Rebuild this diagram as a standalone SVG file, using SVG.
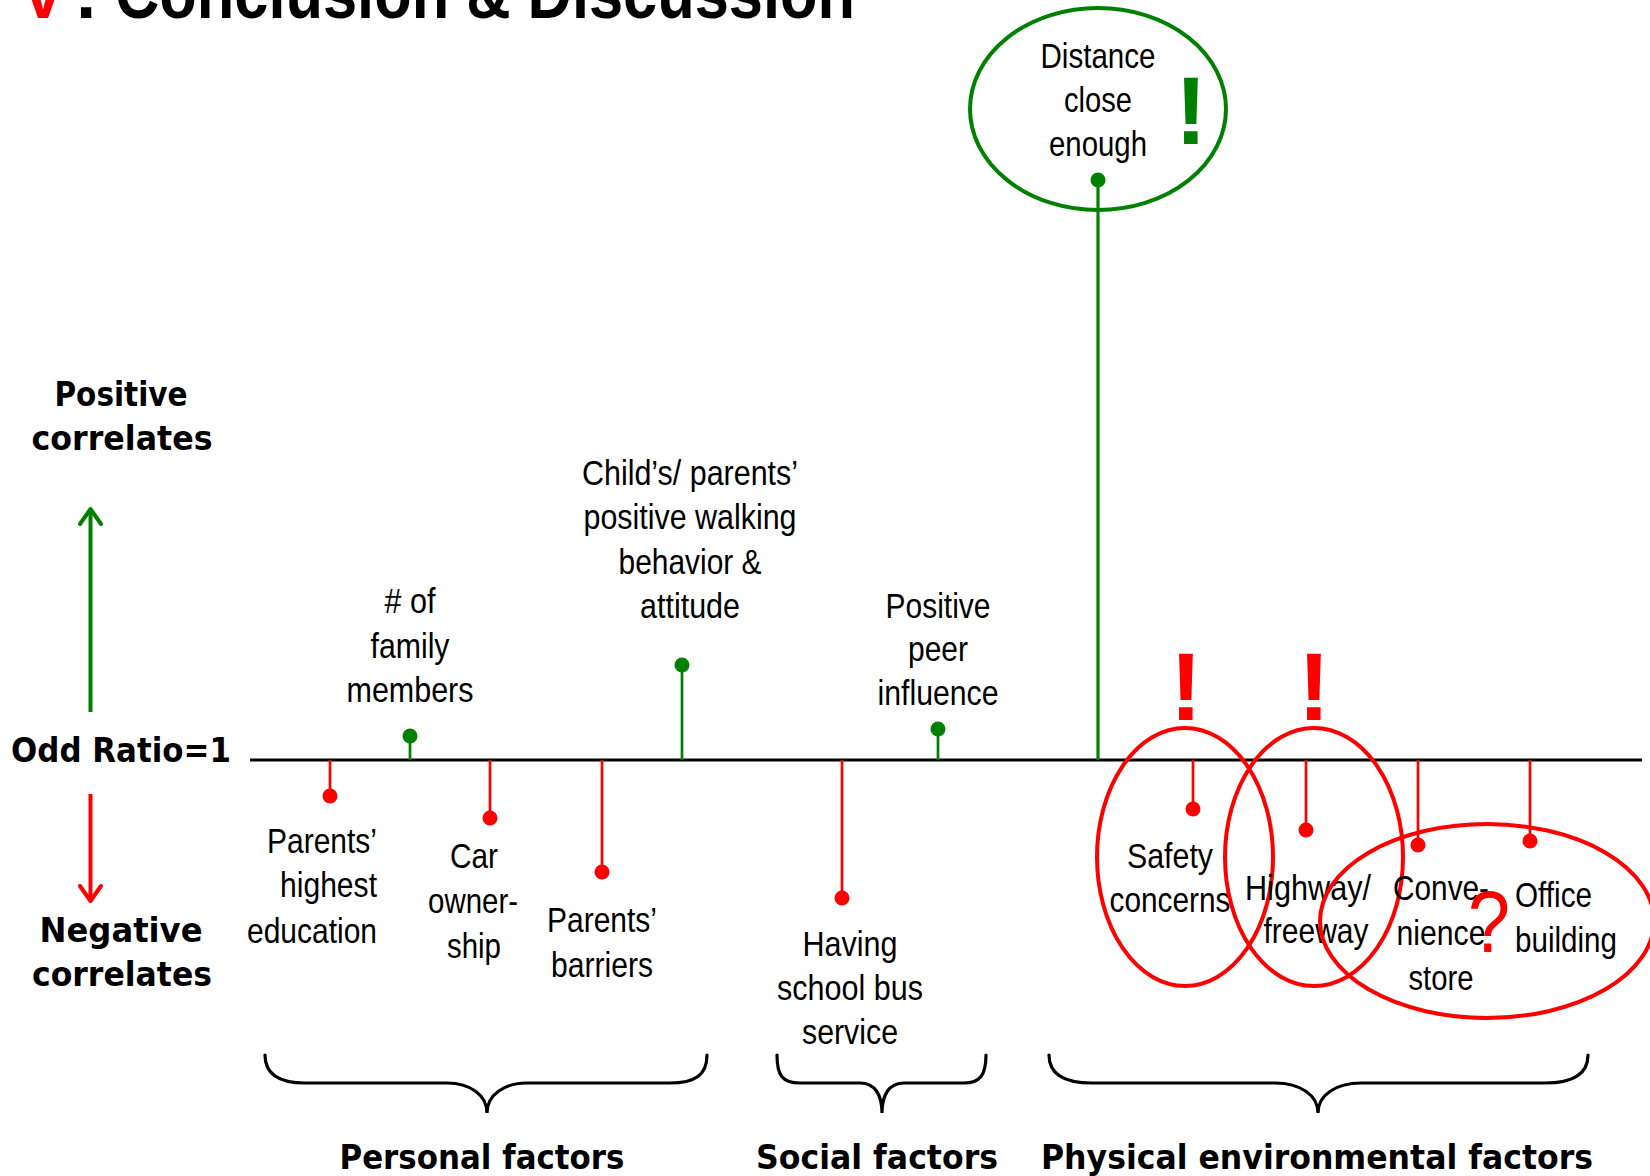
<svg xmlns="http://www.w3.org/2000/svg" width="1650" height="1176" viewBox="0 0 1650 1176">
<style>
.lbl{font-family:"Liberation Sans",Arial,sans-serif;font-size:35px;fill:#000;text-anchor:middle}
.lblS{font-family:"Liberation Sans",Arial,sans-serif;font-size:35px;fill:#000}
.bold{font-family:"DejaVu Sans",Verdana,sans-serif;font-weight:bold;font-size:33px;fill:#000;text-anchor:middle}
.title{font-family:"Liberation Sans",Arial,sans-serif;font-weight:bold;font-size:73px}
.stemR{stroke:#ff0000;stroke-width:2.7;fill:none}
.stemG{stroke:#008000;stroke-width:2.7;fill:none}
.dotR{fill:#ff0000}
.dotG{fill:#008000}
.brace{fill:none;stroke:#000;stroke-width:3.2;stroke-linecap:round}
.excl{font-family:"Liberation Sans",Arial,sans-serif;font-weight:bold;font-size:96px;text-anchor:middle}
.ringR{fill:none;stroke:#ff0000;stroke-width:4}
.ringG{fill:none;stroke:#008000;stroke-width:4}
</style>
<rect width="1650" height="1176" fill="#fff"/>

<g id="title">
<text class="title" x="43" y="18" fill="#ff0000" text-anchor="middle" textLength="46" lengthAdjust="spacingAndGlyphs">V</text>
<text class="title" x="76" y="18" fill="#000">.</text>
<text class="title" x="115" y="18" fill="#000" textLength="740" lengthAdjust="spacingAndGlyphs">Conclusion &amp; Discussion</text>
</g>

<g id="axis">
<line x1="250" y1="760" x2="1642" y2="760" stroke="#000" stroke-width="3"/>
<text class="bold" x="11" y="762" style="text-anchor:start" textLength="220" lengthAdjust="spacingAndGlyphs">Odd Ratio=1</text>
<text class="bold" x="121" y="406" textLength="133" lengthAdjust="spacingAndGlyphs">Positive</text>
<text class="bold" x="122" y="450" textLength="181" lengthAdjust="spacingAndGlyphs">correlates</text>
<text class="bold" x="121" y="942" textLength="163" lengthAdjust="spacingAndGlyphs">Negative</text>
<text class="bold" x="122" y="986" textLength="180" lengthAdjust="spacingAndGlyphs">correlates</text>
<line x1="90.5" y1="712" x2="90.5" y2="510" stroke="#008000" stroke-width="4"/>
<polyline points="80,524 90.5,509 101,524" fill="none" stroke="#008000" stroke-width="4" stroke-linecap="round" stroke-linejoin="round"/>
<line x1="90.5" y1="794" x2="90.5" y2="900" stroke="#ff0000" stroke-width="4"/>
<polyline points="80,886 90.5,901 101,886" fill="none" stroke="#ff0000" stroke-width="4" stroke-linecap="round" stroke-linejoin="round"/>
</g>

<g id="connectors">
<line class="stemR" x1="330" y1="760" x2="330" y2="796"/>
<line class="stemG" x1="410" y1="760" x2="410" y2="736"/>
<line class="stemR" x1="490" y1="760" x2="490" y2="818"/>
<line class="stemR" x1="602" y1="760" x2="602" y2="872"/>
<line class="stemG" x1="682" y1="760" x2="682" y2="665"/>
<line class="stemR" x1="842" y1="760" x2="842" y2="898"/>
<line class="stemG" x1="938" y1="760" x2="938" y2="729"/>
<line class="stemG" x1="1098" y1="760" x2="1098" y2="180" style="stroke-width:3.2"/>
<line class="stemR" x1="1193" y1="760" x2="1193" y2="809"/>
<line class="stemR" x1="1306" y1="760" x2="1306" y2="830"/>
<line class="stemR" x1="1418" y1="760" x2="1418" y2="845"/>
<line class="stemR" x1="1530" y1="760" x2="1530" y2="841"/>
</g>

<g id="parents-education">
<circle class="dotR" cx="330" cy="796" r="7.5"/>
<text class="lblS" x="377" y="853" text-anchor="end" textLength="110" lengthAdjust="spacingAndGlyphs">Parents’</text>
<text class="lblS" x="377" y="897" text-anchor="end" textLength="97" lengthAdjust="spacingAndGlyphs">highest</text>
<text class="lblS" x="377" y="943" text-anchor="end" textLength="130" lengthAdjust="spacingAndGlyphs">education</text>
</g>

<g id="family-members">
<circle class="dotG" cx="410" cy="736" r="7.5"/>
<text class="lbl" x="410" y="613" textLength="51" lengthAdjust="spacingAndGlyphs"># of</text>
<text class="lbl" x="410" y="658" textLength="79" lengthAdjust="spacingAndGlyphs">family</text>
<text class="lbl" x="410" y="702" textLength="127" lengthAdjust="spacingAndGlyphs">members</text>
</g>

<g id="car-ownership">
<circle class="dotR" cx="490" cy="818" r="7.5"/>
<text class="lbl" x="474" y="868" textLength="48" lengthAdjust="spacingAndGlyphs">Car</text>
<text class="lbl" x="473" y="913" textLength="90" lengthAdjust="spacingAndGlyphs">owner-</text>
<text class="lbl" x="474" y="958" textLength="54" lengthAdjust="spacingAndGlyphs">ship</text>
</g>

<g id="parents-barriers">
<circle class="dotR" cx="602" cy="872" r="7.5"/>
<text class="lbl" x="602" y="932" textLength="110" lengthAdjust="spacingAndGlyphs">Parents’</text>
<text class="lbl" x="602" y="977" textLength="102" lengthAdjust="spacingAndGlyphs">barriers</text>
</g>

<g id="walking-attitude">
<circle class="dotG" cx="682" cy="665" r="7.5"/>
<text class="lbl" x="690" y="485" textLength="216" lengthAdjust="spacingAndGlyphs">Child’s/ parents’</text>
<text class="lbl" x="690" y="529" textLength="213" lengthAdjust="spacingAndGlyphs">positive walking</text>
<text class="lbl" x="690" y="574" textLength="143" lengthAdjust="spacingAndGlyphs">behavior &amp;</text>
<text class="lbl" x="690" y="618" textLength="100" lengthAdjust="spacingAndGlyphs">attitude</text>
</g>

<g id="school-bus">
<circle class="dotR" cx="842" cy="898" r="7.5"/>
<text class="lbl" x="850" y="956" textLength="95" lengthAdjust="spacingAndGlyphs">Having</text>
<text class="lbl" x="850" y="1000" textLength="146" lengthAdjust="spacingAndGlyphs">school bus</text>
<text class="lbl" x="850" y="1044" textLength="96" lengthAdjust="spacingAndGlyphs">service</text>
</g>

<g id="peer-influence">
<circle class="dotG" cx="938" cy="729" r="7.5"/>
<text class="lbl" x="938" y="618" textLength="105" lengthAdjust="spacingAndGlyphs">Positive</text>
<text class="lbl" x="938" y="661" textLength="60" lengthAdjust="spacingAndGlyphs">peer</text>
<text class="lbl" x="938" y="705" textLength="121" lengthAdjust="spacingAndGlyphs">influence</text>
</g>

<g id="distance">
<ellipse class="ringG" cx="1098" cy="109" rx="128" ry="101"/>
<circle class="dotG" cx="1098" cy="180" r="7.5"/>
<text class="lbl" x="1098" y="68" textLength="115" lengthAdjust="spacingAndGlyphs">Distance</text>
<text class="lbl" x="1098" y="112" textLength="68" lengthAdjust="spacingAndGlyphs">close</text>
<text class="lbl" x="1098" y="156" textLength="98" lengthAdjust="spacingAndGlyphs">enough</text>
<text class="excl" x="1191" y="144" fill="#008000">!</text>
</g>

<g id="safety">
<circle class="dotR" cx="1193" cy="809" r="7.5"/>
<text class="lbl" x="1170" y="868" textLength="86" lengthAdjust="spacingAndGlyphs">Safety</text>
<text class="lbl" x="1170" y="912" textLength="121" lengthAdjust="spacingAndGlyphs">concerns</text>
<ellipse class="ringR" cx="1185" cy="857" rx="88" ry="129"/>
<text class="excl" x="1186" y="720" fill="#ff0000">!</text>
</g>

<g id="highway">
<circle class="dotR" cx="1306" cy="830" r="7.5"/>
<text class="lbl" x="1308" y="900" textLength="126" lengthAdjust="spacingAndGlyphs">Highway/</text>
<text class="lbl" x="1316" y="943" textLength="105" lengthAdjust="spacingAndGlyphs">freeway</text>
<ellipse class="ringR" cx="1314" cy="857" rx="89" ry="129"/>
<text class="excl" x="1314" y="720" fill="#ff0000">!</text>
</g>

<g id="convenience-store">
<circle class="dotR" cx="1418" cy="845" r="7.5"/>
<text class="lbl" x="1441" y="900" textLength="96" lengthAdjust="spacingAndGlyphs">Conve-</text>
<text class="lbl" x="1441" y="945" textLength="89" lengthAdjust="spacingAndGlyphs">nience</text>
<text class="lbl" x="1441" y="990" textLength="65" lengthAdjust="spacingAndGlyphs">store</text>
</g>

<g id="office-building">
<circle class="dotR" cx="1530" cy="841" r="7.5"/>
<text class="lblS" x="1515" y="907" textLength="77" lengthAdjust="spacingAndGlyphs">Office</text>
<text class="lblS" x="1515" y="952" textLength="102" lengthAdjust="spacingAndGlyphs">building</text>
</g>

<g id="land-use-ring">
<ellipse class="ringR" cx="1487" cy="921" rx="167" ry="97"/>
<text x="1489" y="952" fill="#ff0000" text-anchor="middle" font-family="Liberation Sans, Arial, sans-serif" font-size="87" textLength="42" lengthAdjust="spacingAndGlyphs">?</text>
</g>

<g id="personal-factors">
<path class="brace" d="M265 1055 C265 1075 280 1083 305 1083 L447 1083 C470 1083 487 1095 487 1113 C487 1095 504 1083 527 1083 L670 1083 C695 1083 707 1075 707 1055"/>
<text class="bold" x="482" y="1169" textLength="285" lengthAdjust="spacingAndGlyphs">Personal factors</text>
</g>

<g id="social-factors">
<path class="brace" d="M777 1055 C777 1075 782 1083 800 1083 L860 1083 C875 1083 882 1095 882 1113 C882 1095 889 1083 904 1083 L964 1083 C980 1083 986 1075 986 1055"/>
<text class="bold" x="877" y="1169" textLength="242" lengthAdjust="spacingAndGlyphs">Social factors</text>
</g>

<g id="physical-factors">
<path class="brace" d="M1049 1055 C1049 1075 1065 1083 1092 1083 L1275 1083 C1300 1083 1318 1095 1318 1113 C1318 1095 1336 1083 1361 1083 L1545 1083 C1572 1083 1588 1075 1588 1055"/>
<text class="bold" x="1317" y="1169" textLength="552" lengthAdjust="spacingAndGlyphs">Physical environmental factors</text>
</g>
</svg>
